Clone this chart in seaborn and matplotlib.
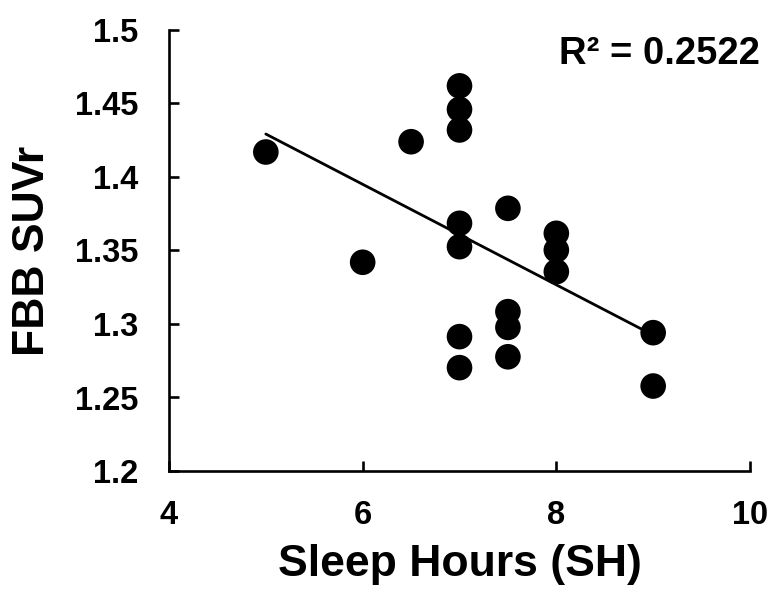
import matplotlib
matplotlib.use("Agg")
import matplotlib.pyplot as plt
import seaborn as sns
import pandas as pd

# Data
sleep_hours = [5, 6, 6.5,
               7, 7, 7, 7, 7, 7, 7,
               7.5, 7.5, 7.5, 7.5,
               8, 8, 8,
               9, 9]
fbb_suvr = [1.417, 1.342, 1.424,
            1.462, 1.446, 1.432, 1.3685, 1.3526, 1.2914, 1.2703,
            1.3787, 1.3084, 1.2977, 1.2777,
            1.3617, 1.3503, 1.3356,
            1.2941, 1.2578]
x_ticks = [4, 6, 8, 10]
y_ticks = [1.2, 1.25, 1.3, 1.35, 1.4, 1.45, 1.5]
y_tick_labels = ["1.2", "1.25", "1.3", "1.35", "1.4", "1.45", "1.5"]
r2_text = "R² = 0.2522"
x_label = "Sleep Hours (SH)"
y_label = "FBB SUVr"

df = pd.DataFrame({"SH": sleep_hours, "SUVr": fbb_suvr})

sns.set_theme(style="ticks")
plt.rcParams["font.family"] = ["Liberation Sans", "DejaVu Sans"]
plt.rcParams["font.weight"] = "bold"
plt.rcParams["text.color"] = "black"
plt.rcParams["axes.labelcolor"] = "black"
plt.rcParams["xtick.color"] = "black"
plt.rcParams["ytick.color"] = "black"

fig = plt.figure(figsize=(7.71, 5.93), dpi=100)
ax = fig.add_axes([169 / 771, 1 - 471 / 593, (750 - 169) / 771, (471 - 30) / 593])

sns.regplot(data=df, x="SH", y="SUVr", ax=ax, ci=None, truncate=True,
            scatter_kws=dict(s=340, color="black", edgecolor="none", alpha=1),
            line_kws=dict(color="black", lw=2.0))

ax.set_xlim(4, 10)
ax.set_ylim(1.2, 1.5)
ax.set_xticks(x_ticks)
ax.set_xticklabels([str(t) for t in x_ticks])
ax.set_yticks(y_ticks)
ax.set_yticklabels(y_tick_labels)

for side in ["top", "right"]:
    ax.spines[side].set_visible(False)
for side in ["left", "bottom"]:
    ax.spines[side].set_linewidth(1.9)
    ax.spines[side].set_color("black")

ax.tick_params(axis="both", direction="in", length=7, width=1.9,
               colors="black", labelcolor="black")
ax.tick_params(axis="y", labelsize=23.5, pad=22)
ax.tick_params(axis="x", labelsize=23.5, pad=21)
for lbl in ax.get_xticklabels() + ax.get_yticklabels():
    lbl.set_fontweight("bold")
    lbl.set_color("black")

ax.set_xlabel(x_label, fontsize=32, fontweight="bold", color="black")
ax.set_ylabel(y_label, fontsize=32, fontweight="bold", color="black")
ax.xaxis.set_label_coords(0.5, -0.165)
ax.yaxis.set_label_coords(-0.20, 0.5)

fig.text(760 / 771, 1 - 54 / 593, r2_text, ha="right", va="center",
         fontsize=27.5, fontweight="bold", color="black")

fig.savefig("out.png", dpi=100, facecolor="white")
